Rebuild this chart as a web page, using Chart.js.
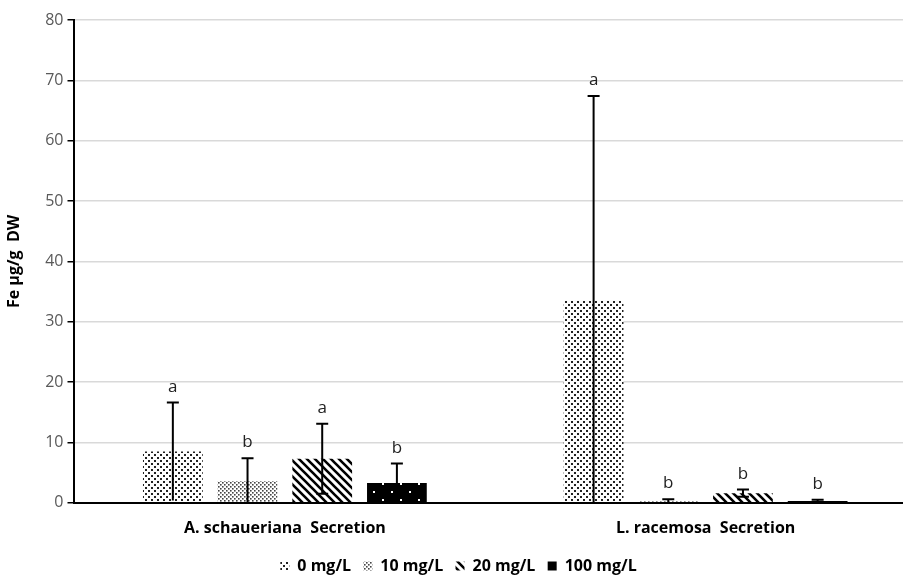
<!DOCTYPE html>
<html lang="en">
<head>
  <meta charset="UTF-8" />
  <title>Fe secretion</title>
  <script src="https://cdn.jsdelivr.net/npm/chart.js"></script>
  <style>
    html, body { margin: 0; padding: 0; background: #fff; overflow: hidden; }
    .chart-container { width: 916px; height: 581px; }
  </style>
</head>
<body>
  <div class="chart-container">
    <canvas id="feChart"></canvas>
  </div>

  <script>
    const categories = ['A. schaueriana  Secretion', 'L. racemosa  Secretion'];
    const doses = ['0 mg/L', '10 mg/L', '20 mg/L', '100 mg/L'];
    const yTicks = [0, 10, 20, 30, 40, 50, 60, 70, 80];

    const fe0 = [8.5, 33.5];
    const fe10 = [3.6, 0.3];
    const fe20 = [7.3, 1.6];
    const fe100 = [3.3, 0.3];

    const err0 = [8.1, 33.9];
    const err10 = [3.8, 0.3];
    const err20 = [5.8, 0.6];
    const err100 = [3.2, 0.2];

    const letters0 = ['a', 'a'];
    const letters10 = ['b', 'b'];
    const letters20 = ['a', 'b'];
    const letters100 = ['b', 'b'];

    // little tiles for the hatch fills
    function makePattern(w, h, draw) {
      const c = document.createElement('canvas');
      c.width = w; c.height = h;
      const g = c.getContext('2d');
      draw(g, w, h);
      return g.createPattern(c, 'repeat');
    }

    const sparseDots = makePattern(6, 6, (g) => {
      g.fillStyle = '#fff'; g.fillRect(0, 0, 6, 6);
      g.fillStyle = '#222';
      g.fillRect(1, 1, 2, 2);
      g.fillRect(4, 4, 2, 2);
    });
    const denseDots = makePattern(4, 4, (g) => {
      g.fillStyle = '#fff'; g.fillRect(0, 0, 4, 4);
      g.fillStyle = '#444';
      g.fillRect(0, 0, 1.6, 1.6);
      g.fillRect(2, 2, 1.6, 1.6);
    });
    const stripes = makePattern(8, 8, (g) => {
      g.fillStyle = '#fff'; g.fillRect(0, 0, 8, 8);
      g.strokeStyle = '#000';
      g.lineWidth = 2.6;
      g.beginPath();
      g.moveTo(-2, -2); g.lineTo(10, 10);
      g.moveTo(-6, 2); g.lineTo(6, 14);
      g.moveTo(2, -6); g.lineTo(14, 6);
      g.stroke();
    });
    const blackDots = makePattern(18, 16, (g) => {
      g.fillStyle = '#000'; g.fillRect(0, 0, 18, 16);
      g.fillStyle = '#fff';
      g.fillRect(4, 3, 2, 2);
      g.fillRect(13, 11, 2, 2);
    });

    const errorBars = {
      id: 'errorBars',
      afterDatasetsDraw(chart) {
        const ctx = chart.ctx;
        const y = chart.scales.y;
        ctx.save();
        chart.data.datasets.forEach((ds, i) => {
          const meta = chart.getDatasetMeta(i);
          meta.data.forEach((bar, j) => {
            const v = ds.data[j], e = ds.errors[j];
            const top = y.getPixelForValue(v + e);
            const bot = y.getPixelForValue(Math.max(0, v - e));
            ctx.strokeStyle = '#000';
            ctx.lineWidth = 2;
            ctx.beginPath();
            ctx.moveTo(bar.x, top); ctx.lineTo(bar.x, bot);
            ctx.moveTo(bar.x - 6, top); ctx.lineTo(bar.x + 6, top);
            if (v - e > 0.5) { ctx.moveTo(bar.x - 6, bot); ctx.lineTo(bar.x + 6, bot); }
            ctx.stroke();
            ctx.fillStyle = '#222';
            ctx.font = '17px "Open Sans", sans-serif';
            ctx.textAlign = 'center';
            ctx.textBaseline = 'alphabetic';
            ctx.fillText(ds.letters[j], bar.x, top - 11);
          });
        });
        ctx.restore();
      }
    };

    const ctx = document.getElementById('feChart').getContext('2d');
    new Chart(ctx, {
      type: 'bar',
      data: {
        labels: categories,
        datasets: [
          { label: doses[0], data: fe0, errors: err0, letters: letters0, backgroundColor: sparseDots },
          { label: doses[1], data: fe10, errors: err10, letters: letters10, backgroundColor: denseDots },
          { label: doses[2], data: fe20, errors: err20, letters: letters20, backgroundColor: stripes },
          { label: doses[3], data: fe100, errors: err100, letters: letters100, backgroundColor: blackDots }
        ]
      },
      options: {
        responsive: true,
        maintainAspectRatio: false,
        animation: false,
        categoryPercentage: 0.71,
        barPercentage: 0.8,
        layout: { padding: { top: 20, right: 0, left: 1, bottom: -3 } },
        plugins: {
          tooltip: { enabled: false },
          legend: {
            position: 'bottom',
            labels: {
              boxWidth: 9,
              boxHeight: 9,
              padding: 4,
              color: '#000',
              font: { family: '"Open Sans", sans-serif', size: 16, weight: 'bold' },
              // wider gap between the legend entries
              generateLabels: (chart) => Chart.defaults.plugins.legend.labels.generateLabels(chart)
                .map((item, i, all) => ({ ...item, text: i < all.length - 1 ? item.text + '  ' : item.text }))
            }
          }
        },
        scales: {
          x: {
            grid: { display: false, drawTicks: false },
            border: { color: '#000', width: 2 },
            ticks: {
              color: '#000',
              padding: 16,
              font: { family: '"Open Sans", sans-serif', size: 16, weight: 'bold' }
            }
          },
          y: {
            min: 0,
            max: 80,
            afterBuildTicks: (axis) => { axis.ticks = yTicks.map(v => ({ value: v })); },
            grid: { color: '#d9d9d9', lineWidth: 1.5, tickColor: '#000', tickLength: 7 },
            border: { color: '#000', width: 2 },
            ticks: {
              color: '#595959',
              padding: 4,
              font: { family: '"Open Sans", sans-serif', size: 16 }
            },
            title: {
              display: true,
              text: 'Fe µg/g  DW',
              color: '#000',
              padding: { top: 4, bottom: 17 },
              font: { family: '"Open Sans", sans-serif', size: 16, weight: 'bold' }
            }
          }
        }
      },
      plugins: [errorBars]
    });
  </script>
</body>
</html>
